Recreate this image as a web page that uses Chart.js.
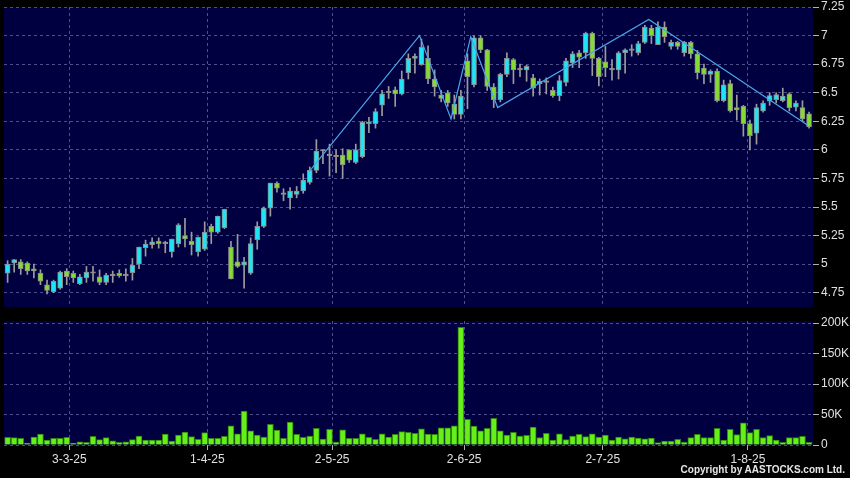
<!DOCTYPE html>
<html>
<head>
<meta charset="utf-8">
<script src="https://cdn.jsdelivr.net/npm/chart.js@4.4.1/dist/chart.umd.min.js"></script>
<style>
  html, body { margin: 0; padding: 0; background: #000; }
  #wrap { position: relative; width: 850px; height: 478px; overflow: hidden; background: #000; }
  #priceBox { position: absolute; left: 0; top: 0; width: 850px; height: 307px; }
  #volBox { position: absolute; left: 0; top: 314px; width: 850px; height: 166px; }
  #copy {
    position: absolute; right: 5px; top: 464px; line-height: 12px;
    font: bold 10px "Liberation Sans", Arial, sans-serif; color: #e6e6e6; letter-spacing: 0;
  }
</style>
</head>
<body>
<div id="wrap">
  <div id="priceBox"><canvas id="price-chart"></canvas></div>
  <div id="volBox"><canvas id="vol-chart"></canvas></div>
  <div id="copy">Copyright by AASTOCKS.com Ltd.</div>
</div>
<script>
// daily candles, Feb 18 2025 .. mid Aug 2025 (one entry per trading day)
const opens = [
  4.92, 5.01, 5.02, 5.01, 4.96, 4.92, 4.82, 4.76, 4.79, 4.94,
  4.92, 4.83, 4.88, 4.92, 4.89, 4.84, 4.90, 4.92, 4.90, 4.925,
  5.00, 5.145, 5.17, 5.20, 5.18, 5.11, 5.18, 5.25, 5.20, 5.11,
  5.13, 5.33, 5.28, 5.32, 5.15, 5.02, 4.99, 4.92, 5.215, 5.33,
  5.49, 5.71, 5.61, 5.58, 5.61, 5.64, 5.715, 5.82, 5.99, 5.95,
  5.94, 5.955, 6.00, 5.89, 5.94, 6.23, 6.23, 6.39, 6.50, 6.525,
  6.49, 6.675, 6.80, 6.745, 6.80, 6.62, 6.48, 6.50, 6.40, 6.31,
  6.78, 6.57, 6.98, 6.876, 6.55, 6.44, 6.66, 6.79, 6.70, 6.70,
  6.63, 6.58, 6.59, 6.52, 6.475, 6.59, 6.76, 6.85, 6.85, 7.02,
  6.80, 6.77, 6.70, 6.70, 6.85, 6.87, 6.85, 6.94, 7.066, 6.92,
  7.075, 6.905, 6.94, 6.85, 6.94, 6.84, 6.715, 6.66, 6.69, 6.43,
  6.58, 6.37, 6.38, 6.23, 6.145, 6.34, 6.425, 6.44, 6.43, 6.49,
  6.373, 6.37, 6.315
];
const highs = [
  5.03, 5.04, 5.04, 5.02, 5.00, 4.95, 4.86, 4.86, 4.94, 4.96,
  4.94, 4.91, 4.98, 4.98, 4.95, 4.92, 4.94, 4.95, 4.96, 5.05,
  5.15, 5.21, 5.23, 5.23, 5.20, 5.22, 5.355, 5.40, 5.28, 5.24,
  5.37, 5.35, 5.42, 5.48, 5.20, 5.26, 5.06, 5.23, 5.37, 5.50,
  5.71, 5.72, 5.66, 5.67, 5.68, 5.79, 5.85, 6.09, 6.00, 6.05,
  6.00, 6.01, 6.00, 6.05, 6.25, 6.285, 6.36, 6.52, 6.555, 6.55,
  6.69, 6.84, 6.84, 6.97, 6.91, 6.70, 6.52, 6.52, 6.48, 6.52,
  6.84, 7.00, 7.00, 6.88, 6.58, 6.67, 6.85, 6.80, 6.75, 6.74,
  6.66, 6.62, 6.63, 6.55, 6.65, 6.80, 6.86, 6.87, 7.03, 7.03,
  6.81, 6.905, 6.79, 6.86, 6.885, 6.92, 6.95, 7.09, 7.09, 7.12,
  7.12, 6.96, 6.95, 6.95, 6.95, 6.87, 6.75, 6.70, 6.71, 6.61,
  6.61, 6.48, 6.39, 6.26, 6.40, 6.43, 6.50, 6.50, 6.54, 6.50,
  6.43, 6.43, 6.33
];
const lows = [
  4.84, 4.93, 4.91, 4.91, 4.88, 4.82, 4.74, 4.75, 4.78, 4.82,
  4.84, 4.82, 4.84, 4.85, 4.82, 4.82, 4.84, 4.885, 4.85, 4.86,
  4.96, 5.07, 5.14, 5.14, 5.10, 5.06, 5.15, 5.15, 5.08, 5.07,
  5.12, 5.18, 5.27, 5.31, 4.87, 4.97, 4.79, 4.91, 5.13, 5.32,
  5.42, 5.63, 5.555, 5.48, 5.58, 5.62, 5.70, 5.80, 5.88, 5.77,
  5.80, 5.75, 5.89, 5.88, 5.93, 6.15, 6.19, 6.30, 6.45, 6.38,
  6.48, 6.62, 6.67, 6.74, 6.58, 6.47, 6.42, 6.38, 6.27, 6.27,
  6.36, 6.55, 6.85, 6.52, 6.37, 6.42, 6.64, 6.58, 6.64, 6.60,
  6.47, 6.48, 6.49, 6.46, 6.43, 6.56, 6.72, 6.72, 6.80, 6.65,
  6.56, 6.64, 6.61, 6.62, 6.67, 6.82, 6.83, 6.93, 6.93, 6.92,
  6.94, 6.88, 6.88, 6.82, 6.80, 6.62, 6.58, 6.59, 6.42, 6.42,
  6.33, 6.26, 6.12, 6.00, 6.05, 6.33, 6.39, 6.41, 6.42, 6.34,
  6.34, 6.25, 6.19
];
const closes = [
  5.00, 5.04, 4.96, 4.94, 4.94, 4.85, 4.77, 4.85, 4.93, 4.89,
  4.88, 4.89, 4.93, 4.92, 4.84, 4.905, 4.90, 4.90, 4.90, 4.99,
  5.15, 5.175, 5.195, 5.18, 5.18, 5.22, 5.345, 5.22, 5.17, 5.235,
  5.28, 5.28, 5.42, 5.48, 4.87, 4.98, 5.02, 5.18, 5.33, 5.49,
  5.71, 5.665, 5.61, 5.64, 5.64, 5.735, 5.82, 5.99, 5.99, 5.95,
  5.94, 5.87, 5.91, 6.00, 6.24, 6.24, 6.335, 6.49, 6.50, 6.49,
  6.62, 6.80, 6.82, 6.90, 6.62, 6.55, 6.45, 6.41, 6.31, 6.47,
  6.64, 6.98, 6.876, 6.554, 6.44, 6.66, 6.80, 6.70, 6.70, 6.73,
  6.54, 6.60, 6.59, 6.475, 6.607, 6.78, 6.84, 6.81, 7.02, 6.80,
  6.64, 6.72, 6.70, 6.85, 6.876, 6.87, 6.93, 7.075, 7.00, 7.075,
  6.99, 6.94, 6.905, 6.944, 6.84, 6.675, 6.66, 6.69, 6.43, 6.57,
  6.34, 6.35, 6.23, 6.125, 6.37, 6.41, 6.475, 6.484, 6.47, 6.37,
  6.41, 6.27, 6.20
];
// volume in thousands of shares
const volumes = [
  12.5, 12, 10.9, 2.7, 13, 18, 8.2, 10.9, 10.9, 12.5,
  2.7, 5.4, 4.4, 14.2, 8.7, 12, 7, 4.4, 5.4, 8.7,
  14.7, 8.2, 8.2, 8.2, 18, 6.5, 16.3, 21.2, 13.6, 9.3,
  20.2, 10.9, 10.9, 14.2, 31.6, 18.5, 55.6, 23.4, 16.3, 13,
  33.8, 24.5, 10.9, 37.6, 17.4, 12.5, 14.7, 27.2, 9.8, 25.6,
  4.9, 25, 10.9, 10.9, 18.5, 12.5, 9.3, 18.5, 13, 17.4,
  21.8, 20.7, 19, 26.7, 18, 17.4, 28.3, 28.3, 31.6, 192.8,
  41.9, 31, 23.4, 27.2, 43.6, 23.4, 16.3, 20.7, 14.7, 15.8,
  29.4, 12, 19, 8.2, 18.5, 8.7, 14.7, 17.4, 13.6, 18.5,
  13, 16.3, 8.2, 13, 10.3, 13, 11.4, 10.3, 11.4, 3.8,
  6.5, 6.5, 9.3, 4.9, 12, 17.4, 12, 12, 27.2, 8.2,
  25.6, 16.9, 36.5, 20.2, 25.6, 12, 15.3, 8.2, 4.4, 12,
  12, 14.2, 4.4
];
// zigzag trend line: candle index / price
const zigIndex = [45.9, 62.7, 67.5, 70.5, 74.6, 97.6, 121.8];
const zigPrice = [5.81, 7.0, 6.27, 6.99, 6.37, 7.14, 6.215];

// date labels on the time axis (position in candle index units)
const tickAt = [9.4, 30.4, 49.4, 69.5, 90.6, 112.7];
const tickLabels = ["3-3-25", "1-4-25", "2-5-25", "2-6-25", "2-7-25", "1-8-25"];
const priceTicks = [4.75, 5, 5.25, 5.5, 5.75, 6, 6.25, 6.5, 6.75, 7, 7.25];
const volTicks = [0, 50, 100, 150, 200];

const NAVY = "#000040";
const GRID = "rgba(130, 130, 190, 0.6)";
const UP = "#1ee4f4";
const DOWN = "#84dc30";
const FLAT = "#9a9a9a";
const FONT = { family: "'Liberation Sans', Arial, sans-serif", size: 12 };

const panelBg = {
  id: "panelBg",
  beforeDraw(chart) {
    const { ctx, chartArea: a } = chart;
    ctx.save();
    ctx.fillStyle = NAVY;
    ctx.fillRect(a.left, a.top, a.right - a.left, a.bottom - a.top);
    ctx.restore();
  },
};

function fixWidth(s) {
  s.width = 37;
  s.paddingTop = 0;
  s.paddingBottom = 0;
}

const xMin = -0.55;
const xMax = opens.length - 0.4;

// price panel
const bodyColors = opens.map((o, i) =>
  closes[i] > o ? UP : closes[i] < o ? DOWN : FLAT
);

new Chart(document.getElementById("price-chart"), {
  type: "bar",
  data: {
    datasets: [
      {
        type: "line",
        data: zigIndex.map((x, i) => ({ x, y: zigPrice[i] })),
        borderColor: "#4aa6e8",
        borderWidth: 1.2,
        pointRadius: 0,
        tension: 0,
        order: 0,
      },
      {
        data: opens.map((o, i) => ({ x: i, y: [Math.min(o, closes[i]), Math.max(o, closes[i])] })),
        backgroundColor: bodyColors,
        borderColor: "#8c8c8c",
        borderWidth: 1,
        borderSkipped: false,
        barThickness: 5,
        minBarLength: 1.5,
        grouped: false,
        order: 1,
      },
      {
        data: lows.map((l, i) => ({ x: i, y: [l, highs[i]] })),
        backgroundColor: "#9c9c9c",
        barThickness: 1,
        grouped: false,
        order: 2,
      },
    ],
  },
  options: {
    responsive: true,
    maintainAspectRatio: false,
    animation: false,
    layout: { padding: { left: 4, top: 7, right: 0, bottom: 0 } },
    plugins: { legend: { display: false }, tooltip: { enabled: false } },
    scales: {
      x: {
        type: "linear",
        min: xMin,
        max: xMax,
        offset: false,
        afterBuildTicks: (s) => { s.ticks = tickAt.map((v) => ({ value: v })); },
        afterFit: (s) => { s.height = 0; s.paddingLeft = 0; s.paddingRight = 0; },
        ticks: { display: false },
        grid: { color: GRID, offset: false, drawTicks: false },
        border: { display: false, dash: [3, 3] },
      },
      y: {
        position: "right",
        min: 4.625,
        max: 7.25,
        afterBuildTicks: (s) => { s.ticks = priceTicks.map((v) => ({ value: v })); },
        afterFit: fixWidth,
        ticks: {
          color: "#e0e0e0",
          font: FONT,
          padding: 2,
          callback: (v) => String(+v.toFixed(2)),
        },
        grid: { color: GRID, tickLength: 6, tickColor: "#b0b0b0" },
        border: { display: false, dash: [3, 3] },
      },
    },
  },
  plugins: [panelBg],
});

// volume panel
new Chart(document.getElementById("vol-chart"), {
  type: "bar",
  data: {
    datasets: [
      {
        data: volumes.map((v, i) => ({ x: i, y: v })),
        backgroundColor: "#66f01a",
        borderColor: "#2f800c",
        borderWidth: 1,
        barThickness: 6,
      },
    ],
  },
  options: {
    responsive: true,
    maintainAspectRatio: false,
    animation: false,
    layout: { padding: { left: 4, top: 7, right: 0, bottom: 0 } },
    plugins: { legend: { display: false }, tooltip: { enabled: false } },
    scales: {
      x: {
        type: "linear",
        min: xMin,
        max: xMax,
        offset: false,
        afterBuildTicks: (s) => { s.ticks = tickAt.map((v) => ({ value: v })); },
        afterFit: (s) => { s.height = 35; s.paddingLeft = 0; s.paddingRight = 0; },
        ticks: {
          color: "#e0e0e0",
          font: FONT,
          padding: 2,
          autoSkip: false,
          maxRotation: 0,
          callback: (v) => tickLabels[tickAt.indexOf(v)],
        },
        grid: { color: GRID, offset: false, tickLength: 5, tickColor: "#b0b0b0" },
        border: { display: false, dash: [3, 3] },
      },
      y: {
        position: "right",
        min: 0,
        max: 203.3,
        afterBuildTicks: (s) => { s.ticks = volTicks.map((v) => ({ value: v })); },
        afterFit: fixWidth,
        ticks: {
          color: "#e0e0e0",
          font: FONT,
          padding: 2,
          callback: (v) => (v === 0 ? "0" : v + "K"),
        },
        grid: { color: GRID, tickLength: 6, tickColor: "#b0b0b0" },
        border: { display: false, dash: [3, 3] },
      },
    },
  },
  plugins: [panelBg],
});
</script>
</body>
</html>
